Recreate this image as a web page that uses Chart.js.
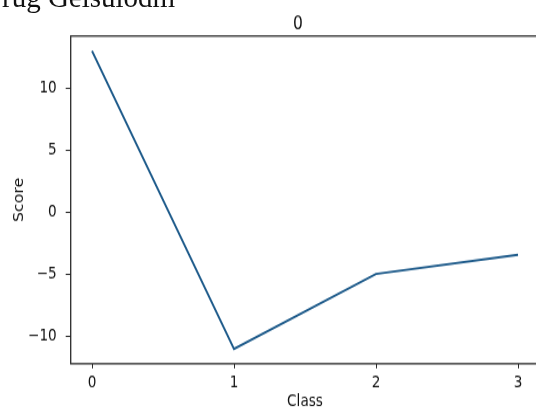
<!DOCTYPE html>
<html>
<head>
<meta charset="utf-8">
<script src="https://cdn.jsdelivr.net/npm/chart.js@4"></script>
<style>
  html, body { margin: 0; padding: 0; background: #fff; overflow: hidden; }
  #wrap { position: relative; width: 536px; height: 410px; overflow: hidden; }
  #cut { position: absolute; left: 2px; top: -17px; font: 29px "Liberation Serif", serif; line-height: 1; color: #111; white-space: nowrap; }
  /* the source picture is stretched a little in height */
  #c { position: absolute; left: 0; top: 0; transform: scaleY(1.17); transform-origin: 0 0; }
</style>
</head>
<body>
<div id="wrap">
  <canvas id="c" width="596" height="352"></canvas>
  <div id="cut">rug Gelsulodm</div>
</div>
<script>
const classes = [0, 1, 2, 3]
const scores = [13.0, -11.05, -5.0, -3.45]
const yTicks = [-10, -5, 0, 5, 10]
const xTicks = [0, 1, 2, 3]

const lineColor = '#1d5a8a'
const font = { family: 'DejaVu Sans', size: 13.6 }

// matplotlib style box round the plot, title centred on the whole canvas
const boxPlugin = {
    id: 'box',
    afterLayout(chart) {
        chart.titleBlock.left = 0
        chart.titleBlock.right = chart.width
    },
    afterDraw(chart) {
        const a = chart.chartArea
        const ctx = chart.ctx
        ctx.save()
        ctx.strokeStyle = '#2a2a2a'
        ctx.lineWidth = 1.3
        ctx.strokeRect(a.left, a.top, a.right - a.left, a.bottom - a.top)
        ctx.restore()
    }
}

const minus = v => String(v).replace('-', '\u2212')

new Chart(document.getElementById('c'), {
    type: 'line',
    data: {
        datasets: [{
            data: classes.map((c, i) => ({ x: c, y: scores[i] })),
            borderColor: lineColor,
            borderWidth: 1.9,
            pointRadius: 0,
            tension: 0,
            fill: false,
        }],
    },
    options: {
        responsive: false,
        animation: false,
        layout: { padding: { top: 0, right: 56.7, bottom: 0, left: 11 } },
        plugins: {
            legend: { display: false },
            tooltip: { enabled: false },
            title: {
                display: true,
                text: '0',
                color: '#111',
                font: { family: 'DejaVu Sans', size: 15.5, weight: 'normal' },
                padding: { top: 11.2, bottom: 1.0 },
            },
        },
        scales: {
            x: {
                type: 'linear',
                min: -0.15,
                max: 3.15,
                afterBuildTicks: s => { s.ticks = xTicks.map(v => ({ value: v })) },
                afterFit: s => { s.height -= 4.0 },
                ticks: { color: '#111', font: font, padding: 4, callback: v => minus(v) },
                grid: { drawOnChartArea: false, tickLength: 4, tickColor: '#2a2a2a' },
                border: { display: false },
                title: { display: true, text: 'Class', color: '#111', font: font, padding: { top: 0.5, bottom: 0 } },
            },
            y: {
                min: -12.25,
                max: 14.2,
                afterBuildTicks: s => { s.ticks = yTicks.map(v => ({ value: v })) },
                afterFit: s => { s.width -= 10.3 },
                ticks: { color: '#111', font: font, padding: 9, callback: v => minus(v) },
                grid: { drawOnChartArea: false, tickLength: 5, tickColor: '#2a2a2a' },
                border: { display: false },
                title: { display: true, text: 'Score', color: '#111', font: font, padding: { top: 0, bottom: 2 } },
            },
        },
    },
    plugins: [boxPlugin],
})
</script>
</body>
</html>
